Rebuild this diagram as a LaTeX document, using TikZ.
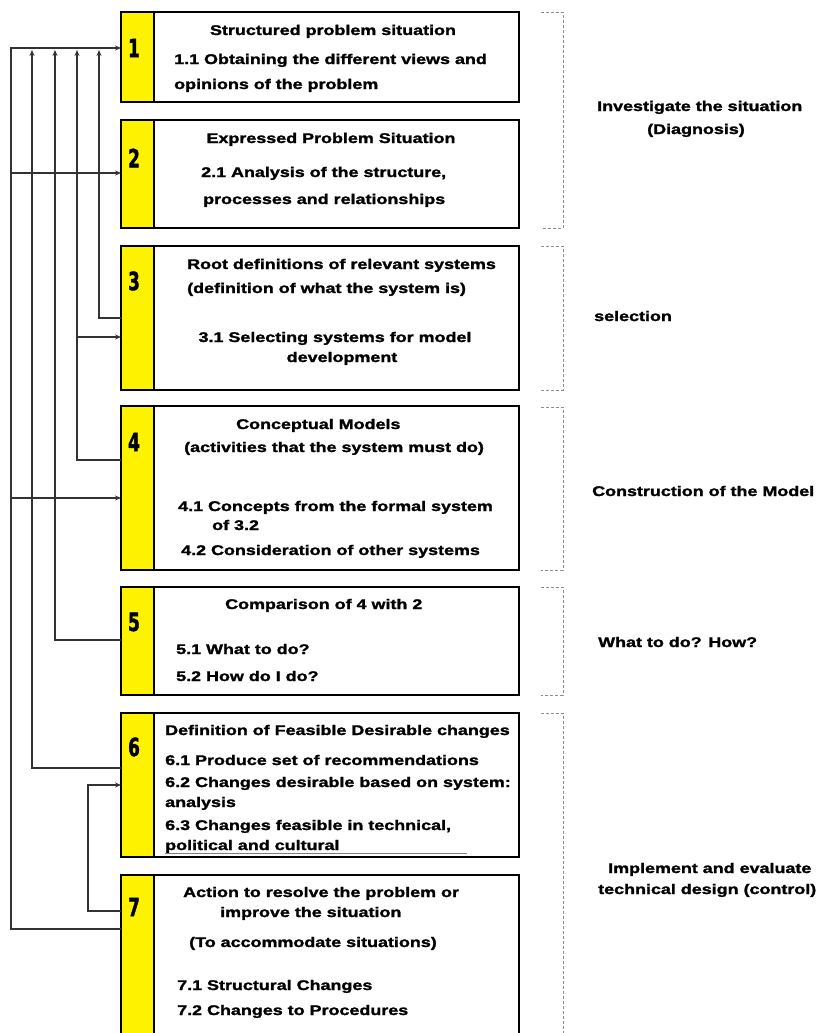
\documentclass[tikz,border=0pt]{standalone}
\usepackage{fontspec}
\setmainfont{Liberation Sans}[FakeStretch=1.28,BoldFeatures={FakeBold=1.6}]
\newfontfamily\numfont{DejaVu Sans Condensed}[BoldFeatures={FakeBold=2}]
\usetikzlibrary{arrows.meta}
\begin{document}
\begin{tikzpicture}[x=1pt,y=-1pt,
  box/.style={draw=black,line width=1.6pt,fill=white,anchor=north west,inner sep=0pt,outer sep=0pt,minimum width=398pt},
  strip/.style={draw=black,line width=1.6pt,fill=yellow,anchor=north west,inner sep=0pt,outer sep=0pt,minimum width=33pt},
  num/.style={font=\numfont\bfseries\fontsize{25}{25}\selectfont,inner sep=0pt},
  txt/.style={font=\bfseries\fontsize{14}{16}\selectfont,inner sep=0pt,anchor=base west},
  ctxt/.style={font=\bfseries\fontsize{14}{16}\selectfont,inner sep=0pt,anchor=base},
  conn/.style={draw=black!80,line width=1.3pt},
  arr/.style={conn,-{Stealth[length=6pt,width=5pt]}},
  brk/.style={draw=black!45,line width=0.8pt,densely dashed}]
\clip (0,0) rectangle (825,1033);
\fill[white] (0,0) rectangle (825,1033);
% boxes
\node[box,minimum height=90pt] (b1) at (121,12) {};
\node[box,minimum height=108pt] (b2) at (121,120) {};
\node[box,minimum height=144pt] (b3) at (121,246) {};
\node[box,minimum height=164pt] (b4) at (121,406) {};
\node[box,minimum height=108pt] (b5) at (121,587) {};
\node[box,minimum height=144pt] (b6) at (121,713) {};
\node[box,minimum height=180pt] (b7) at (121,875) {};
\node[strip,minimum height=90pt] (y1) at (121,12) {};
\node[strip,minimum height=108pt] (y2) at (121,120) {};
\node[strip,minimum height=144pt] (y3) at (121,246) {};
\node[strip,minimum height=164pt] (y4) at (121,406) {};
\node[strip,minimum height=108pt] (y5) at (121,587) {};
\node[strip,minimum height=144pt] (y6) at (121,713) {};
\node[strip,minimum height=180pt] (y7) at (121,875) {};
% numbers
\node[num] (n1) at (134,48) {\scalebox{0.75}[1]{1}};
\node[num] (n2) at (134,158) {\scalebox{0.75}[1]{2}};
\node[num] (n3) at (134,281) {\scalebox{0.75}[1]{3}};
\node[num] (n4) at (134,442) {\scalebox{0.75}[1]{4}};
\node[num] (n5) at (134,622) {\scalebox{0.75}[1]{5}};
\node[num] (n6) at (134,747) {\scalebox{0.75}[1]{6}};
\node[num] (n7) at (134,907) {\scalebox{0.75}[1]{7}};
% box texts
\node[ctxt] (t1a) at (333,35) {Structured problem situation};
\node[txt] (t1b) at (174,64) {1.1 Obtaining the different views and};
\node[txt] (t1c) at (174,89) {opinions of the problem};
\node[ctxt] (t2a) at (331,143) {Expressed Problem Situation};
\node[txt] (t2b) at (201,177) {2.1 Analysis of the structure,};
\node[txt] (t2c) at (203,204) {processes and relationships};
\node[txt] (t3a) at (187,269) {Root definitions of relevant systems};
\node[txt] (t3b) at (187,293) {(definition of what the system is)};
\node[ctxt] (t3c) at (335,342) {3.1 Selecting systems for model};
\node[ctxt] (t3d) at (342,362) {development};
\node[txt] (t4a) at (236,429) {Conceptual Models};
\node[txt] (t4b) at (184,452) {(activities that the system must do)};
\node[txt] (t4c) at (178,511) {4.1 Concepts from the formal system};
\node[txt] (t4d) at (212,530) {of 3.2};
\node[txt] (t4e) at (181,555) {4.2 Consideration of other systems};
\node[txt] (t5a) at (225,609) {Comparison of 4 with 2};
\node[txt] (t5b) at (176,654) {5.1 What to do?};
\node[txt] (t5c) at (176,681) {5.2 How do I do?};
\node[txt] (t6a) at (165,735) {Definition of Feasible Desirable changes};
\node[txt] (t6b) at (165,765) {6.1 Produce set of recommendations};
\node[txt] (t6c) at (165,787) {6.2 Changes desirable based on system:};
\node[txt] (t6d) at (165,807) {analysis};
\node[txt] (t6e) at (165,830) {6.3 Changes feasible in technical,};
\node[txt] (t6f) at (165,850) {political and cultural};
\draw[black!50,line width=0.8pt] (t6f.base west) ++(0,3) -- ++(302,0);
\node[txt] (t7a) at (183,897) {Action to resolve the problem or};
\node[txt] (t7b) at (220,917) {improve the situation};
\node[txt] (t7c) at (189,947) {(To accommodate situations)};
\node[txt] (t7d) at (177,990) {7.1 Structural Changes};
\node[txt] (t7e) at (177,1015) {7.2 Changes to Procedures};
% right brackets
\draw[brk] (541,12) -- (563,12) -- (563,228) -- (541,228);
\draw[brk] (541,246) -- (563,246) -- (563,390) -- (541,390);
\draw[brk] (541,407) -- (563,407) -- (563,570) -- (541,570);
\draw[brk] (541,587) -- (563,587) -- (563,695) -- (541,695);
\draw[brk] (541,713) -- (563,713) -- (563,1040);
% right labels
\node[txt] (l1a) at (597,111) {Investigate the situation};
\node[txt] (l1b) at (647,134) {(Diagnosis)};
\node[txt] (l2) at (594,321) {selection};
\node[txt] (l3) at (592,496) {Construction of the Model};
\node[txt] (l4) at (598,647) {What to do? How?};
\node[txt] (l5a) at (608,873) {Implement and evaluate};
\node[txt] (l5b) at (598,894) {technical design (control)};
% connectors
\coordinate (k1) at (11,48);
\draw[arr] (y7.west |- 0,929) -| (k1) -- (y1.west |- k1);
\draw[arr] (11,173) -- (y2.west |- 0,173);
\draw[arr] (11,498) -- (y4.west |- 0,498);
\draw[arr] (y6.west |- 0,768) -| (32,50);
\draw[arr] (y5.west |- 0,640) -| (55,50);
\draw[arr] (y4.west |- 0,460) -| (77,50);
\draw[arr] (77,337) -- (y3.west |- 0,337);
\draw[arr] (y3.west |- 0,318) -| (99,50);
\draw[arr] (y7.west |- 0,911) -| (88,785) -- (y6.west |- 0,785);
\end{tikzpicture}
\end{document}
